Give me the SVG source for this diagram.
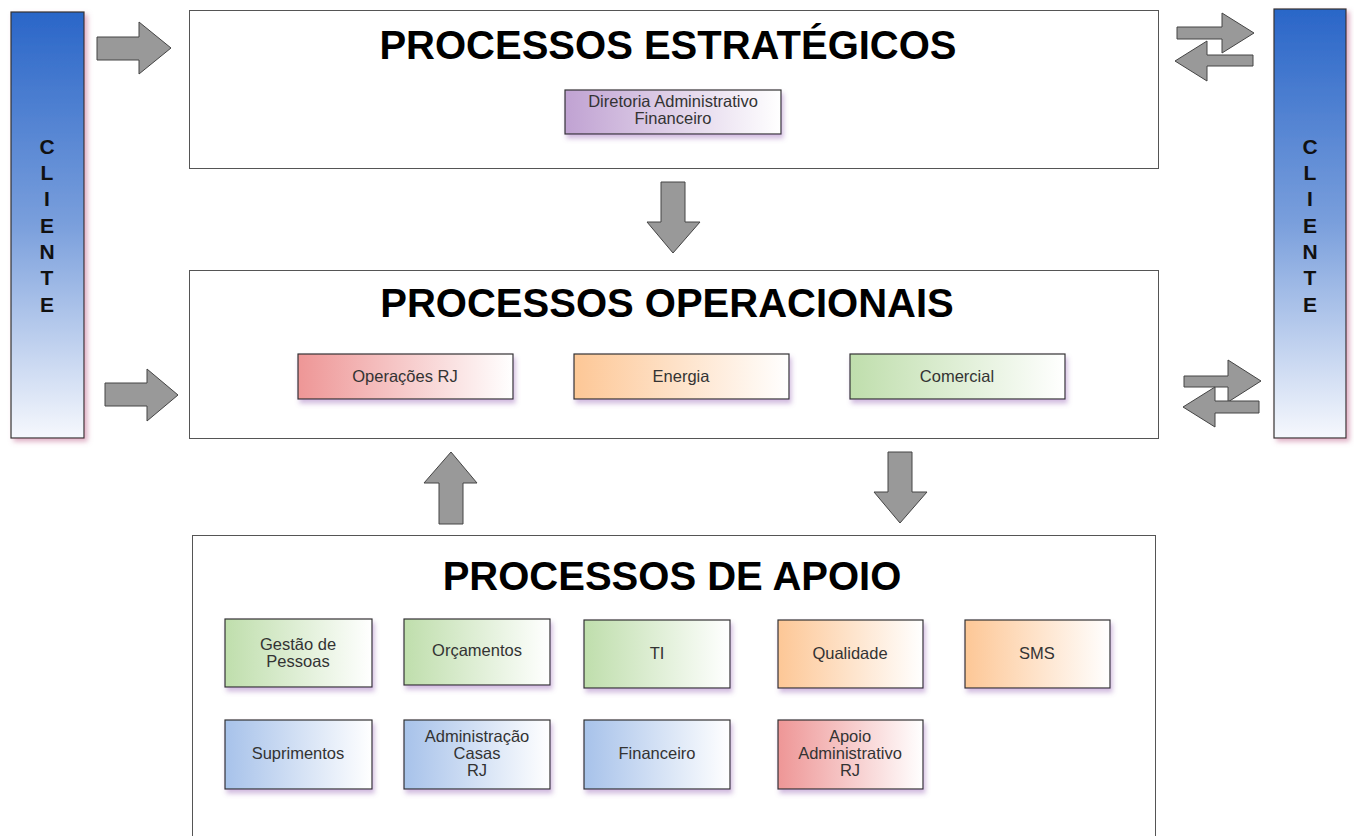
<svg xmlns="http://www.w3.org/2000/svg" width="1354" height="836" viewBox="0 0 1354 836">
<defs>
<linearGradient id="gCli" x1="0" y1="0" x2="0" y2="1"><stop offset="0" stop-color="#2a66c8"/><stop offset="0.5" stop-color="#7a9fdc"/><stop offset="1" stop-color="#f6f8fd"/></linearGradient>
<linearGradient id="gPur" x1="0" y1="0" x2="1" y2="0"><stop offset="0" stop-color="#c0a2d2"/><stop offset="1" stop-color="#ffffff"/></linearGradient>
<linearGradient id="gRed" x1="0" y1="0" x2="1" y2="0"><stop offset="0" stop-color="#ee9696"/><stop offset="1" stop-color="#ffffff"/></linearGradient>
<linearGradient id="gOra" x1="0" y1="0" x2="1" y2="0"><stop offset="0" stop-color="#fdc796"/><stop offset="1" stop-color="#ffffff"/></linearGradient>
<linearGradient id="gGre" x1="0" y1="0" x2="1" y2="0"><stop offset="0" stop-color="#bfdeac"/><stop offset="1" stop-color="#ffffff"/></linearGradient>
<linearGradient id="gBlu" x1="0" y1="0" x2="1" y2="0"><stop offset="0" stop-color="#a7c2ea"/><stop offset="1" stop-color="#ffffff"/></linearGradient>
<filter id="sh" x="-20%" y="-20%" width="150%" height="160%"><feDropShadow dx="2" dy="4" stdDeviation="2.5" flood-color="#9a68b8" flood-opacity="0.45"/></filter>
<filter id="shc" x="-30%" y="-10%" width="170%" height="120%"><feDropShadow dx="3" dy="3" stdDeviation="2.5" flood-color="#c0608a" flood-opacity="0.5"/></filter>
<style>
.main{fill:#fff;stroke:#555;stroke-width:1}
.box{stroke:#333;stroke-width:1.2;filter:url(#sh)}
.cli{fill:url(#gCli);stroke:#333;stroke-width:1.2;filter:url(#shc)}
.arr{fill:#999;stroke:#444;stroke-width:1;stroke-linejoin:round}
.title{font-family:"Liberation Sans",Arial,sans-serif;font-weight:bold;font-size:40px;fill:#000;text-anchor:middle}
.lbl{font-family:"Liberation Sans",Arial,sans-serif;font-size:16.5px;fill:#333;text-anchor:middle}
.cl{font-family:"Liberation Sans",Arial,sans-serif;font-weight:bold;font-size:21px;fill:#111;text-anchor:middle}
</style>
</defs>
<rect width="1354" height="836" fill="#fff"/>

<g id="cliente-left">
<rect class="cli" x="11" y="12" width="73" height="426"/>
<text class="cl" x="47"><tspan x="47" y="154">C</tspan><tspan x="47" y="180">L</tspan><tspan x="47" y="206">I</tspan><tspan x="47" y="233">E</tspan><tspan x="47" y="259">N</tspan><tspan x="47" y="285">T</tspan><tspan x="47" y="312">E</tspan></text>
</g>
<g id="cliente-right">
<rect class="cli" x="1274" y="9" width="72" height="429"/>
<text class="cl" x="1310"><tspan x="1310" y="154">C</tspan><tspan x="1310" y="180">L</tspan><tspan x="1310" y="206">I</tspan><tspan x="1310" y="233">E</tspan><tspan x="1310" y="259">N</tspan><tspan x="1310" y="285">T</tspan><tspan x="1310" y="312">E</tspan></text>
</g>

<g id="estrategicos">
<rect class="main" x="189.5" y="10.5" width="969" height="158"/>
<text class="title" x="668" y="59">PROCESSOS ESTRATÉGICOS</text>
</g>
<g id="diretoria">
<rect class="box" fill="url(#gPur)" x="565" y="90" width="216" height="44"/>
<text class="lbl" x="673" y="107">Diretoria Administrativo</text>
<text class="lbl" x="673" y="124">Financeiro</text>
</g>

<g id="operacionais">
<rect class="main" x="189.5" y="270.5" width="969" height="168"/>
<text class="title" x="667" y="317">PROCESSOS OPERACIONAIS</text>
</g>
<g id="operacoes-rj">
<rect class="box" fill="url(#gRed)" x="298" y="354" width="215" height="45"/>
<text class="lbl" x="405" y="382">Operações RJ</text>
</g>
<g id="energia">
<rect class="box" fill="url(#gOra)" x="574" y="354" width="215" height="45"/>
<text class="lbl" x="681" y="382">Energia</text>
</g>
<g id="comercial">
<rect class="box" fill="url(#gGre)" x="850" y="354" width="215" height="45"/>
<text class="lbl" x="957" y="382">Comercial</text>
</g>

<g id="apoio">
<rect class="main" x="192.5" y="535.5" width="963" height="320"/>
<text class="title" x="672" y="590">PROCESSOS DE APOIO</text>
</g>
<g id="gestao-pessoas">
<rect class="box" fill="url(#gGre)" x="225" y="619" width="147" height="68"/>
<text class="lbl" x="298" y="650">Gestão de</text>
<text class="lbl" x="298" y="667">Pessoas</text>
</g>
<g id="orcamentos">
<rect class="box" fill="url(#gGre)" x="404" y="619" width="146" height="66"/>
<text class="lbl" x="477" y="656">Orçamentos</text>
</g>
<g id="ti">
<rect class="box" fill="url(#gGre)" x="584" y="620" width="146" height="68"/>
<text class="lbl" x="657" y="659">TI</text>
</g>
<g id="qualidade">
<rect class="box" fill="url(#gOra)" x="778" y="620" width="145" height="68"/>
<text class="lbl" x="850" y="659">Qualidade</text>
</g>
<g id="sms">
<rect class="box" fill="url(#gOra)" x="965" y="620" width="145" height="68"/>
<text class="lbl" x="1037" y="659">SMS</text>
</g>
<g id="suprimentos">
<rect class="box" fill="url(#gBlu)" x="225" y="720" width="147" height="69"/>
<text class="lbl" x="298" y="759">Suprimentos</text>
</g>
<g id="administracao-casas">
<rect class="box" fill="url(#gBlu)" x="404" y="720" width="146" height="69"/>
<text class="lbl" x="477" y="742">Administração</text>
<text class="lbl" x="477" y="759">Casas</text>
<text class="lbl" x="477" y="776">RJ</text>
</g>
<g id="financeiro">
<rect class="box" fill="url(#gBlu)" x="584" y="720" width="146" height="69"/>
<text class="lbl" x="657" y="759">Financeiro</text>
</g>
<g id="apoio-administrativo">
<rect class="box" fill="url(#gRed)" x="778" y="720" width="145" height="69"/>
<text class="lbl" x="850" y="742">Apoio</text>
<text class="lbl" x="850" y="759">Administrativo</text>
<text class="lbl" x="850" y="776">RJ</text>
</g>

<g id="connectors">
<polygon class="arr" points="97,37 139,37 139,22 171,48 139,74 139,60 97,60"/>
<polygon class="arr" points="105,383 147,383 147,369 178,395 147,421 147,406 105,406"/>
<polygon class="arr" points="661,182 685,182 685,222 700,222 673,253 647,222 661,222"/>
<polygon class="arr" points="451,452 477,483 463,483 463,524 439,524 439,483 424,483"/>
<polygon class="arr" points="888,452 912,452 912,492 927,492 900,523 874,492 888,492"/>
<polygon class="arr" points="1177,27 1222,27 1222,13 1254,33 1222,53 1222,39 1177,39"/>
<polygon class="arr" points="1253,55 1207,55 1207,41 1175,61 1207,81 1207,66 1253,66"/>
<polygon class="arr" points="1184,376 1228,376 1228,360 1261,381 1228,402 1228,387 1184,387"/>
<polygon class="arr" points="1259,401 1215,401 1215,387 1183,407 1215,427 1215,413 1259,413"/>
</g>
</svg>
